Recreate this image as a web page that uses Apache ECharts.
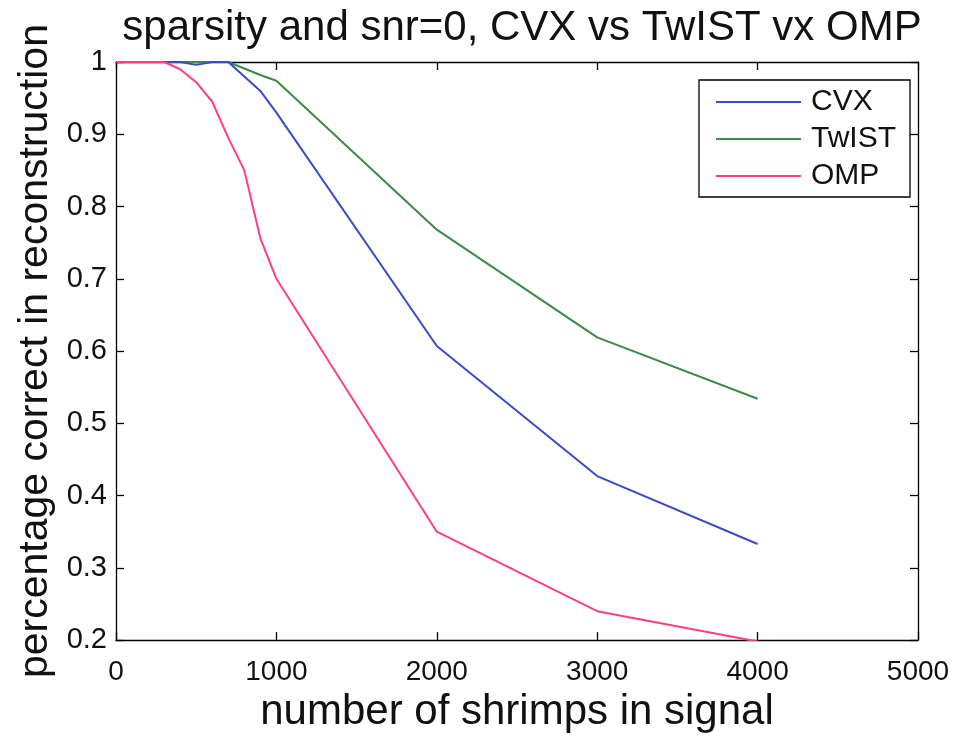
<!DOCTYPE html>
<html><head><meta charset="utf-8">
<script src="https://cdn.jsdelivr.net/npm/echarts@6/dist/echarts.min.js"></script>
<style>html,body{margin:0;padding:0;background:#fff}#c{width:959px;height:738px}</style>
</head><body><div id="c"></div>
<script>
const xValues = [0, 100, 200, 300, 400, 500, 600, 700, 800, 900, 1000, 2000, 3000, 4000];
const cvx   = [1, 1, 1, 1, 1, 0.996, 1, 1, 0.98, 0.96, 0.93, 0.607, 0.427, 0.333];
const twist = [1, 1, 1, 1, 1, 1, 1, 1, 0.991, 0.982, 0.974, 0.768, 0.619, 0.534];
const omp   = [1, 1, 1, 1, 0.99, 0.972, 0.945, 0.895, 0.85, 0.756, 0.70, 0.35, 0.24, 0.198];
const xTicks = [0, 1000, 2000, 3000, 4000, 5000];
const yTicks = [0.2, 0.3, 0.4, 0.5, 0.6, 0.7, 0.8, 0.9, 1];
const seriesNames = ['CVX', 'TwIST', 'OMP'];
const colors = ['#3a4cc4', '#3d8a45', '#ff3f80'];
const titleText = 'sparsity and snr=0, CVX vs TwIST vx OMP';
const xLabel = 'number of shrimps in signal';
const yLabel = 'percentage correct in reconstruction';

const font = 'Liberation Sans, Arial, Helvetica, sans-serif';
const chart = echarts.init(document.getElementById('c'));
const pair = arr => xValues.map((x, i) => [x, arr[i]]);
const baseX = {
  type: 'value', min: 0, max: 5000, interval: 1000,
  axisLine: {show: true, onZero: false, lineStyle: {color: '#000', width: 1.3}},
  axisTick: {show: true, inside: true, length: 8, lineStyle: {color: '#000', width: 1.3}},
  splitLine: {show: false}
};
const baseY = {
  type: 'value', min: 0.2, max: 1, interval: 0.1,
  axisLine: {show: true, onZero: false, lineStyle: {color: '#000', width: 1.3}},
  axisTick: {show: true, inside: true, length: 8, lineStyle: {color: '#000', width: 1.3}},
  splitLine: {show: false}
};
chart.setOption({
  animation: false,
  backgroundColor: '#fff',
  title: {
    text: titleText, left: 517, textAlign: 'center', top: 2,
    textStyle: {fontFamily: font, fontSize: 42, fontWeight: 'normal', color: '#111'}
  },
  grid: {left: 116, top: 62, right: 41, bottom: 89},
  legend: {
    orient: 'vertical', left: 699, top: 80,
    data: seriesNames,
    icon: 'rect', itemWidth: 85, itemHeight: 2, itemGap: 7,
    padding: [7, 14, 6, 17],
    borderColor: '#000', borderWidth: 1.3,
    textStyle: {fontFamily: font, fontSize: 30, color: '#111', lineHeight: 30, padding: [0, 0, 0, 5]}
  },
  xAxis: [
    Object.assign({}, baseX, {
      position: 'bottom',
      name: xLabel, nameLocation: 'middle', nameGap: 50,
      nameTextStyle: {fontFamily: font, fontSize: 42, color: '#111'},
      axisLabel: {fontFamily: font, fontSize: 28, color: '#111', margin: 18,
        formatter: v => xTicks.includes(v) ? String(v) : ''}
    }),
    Object.assign({}, baseX, {position: 'top', axisLabel: {show: false}})
  ],
  yAxis: [
    Object.assign({}, baseY, {
      position: 'left',
      name: yLabel, nameLocation: 'middle', nameGap: 60,
      nameTextStyle: {fontFamily: font, fontSize: 41, color: '#111'},
      axisLabel: {fontFamily: font, fontSize: 29, color: '#111', margin: 9,
        formatter: v => { const r = Math.round(v * 10) / 10; return yTicks.includes(r) ? (r === 1 ? '1' : r.toFixed(1)) : ''; }}
    }),
    Object.assign({}, baseY, {position: 'right', axisLabel: {show: false}})
  ],
  series: [
    {name: seriesNames[0], type: 'line', data: pair(cvx), symbol: 'none', lineStyle: {width: 2, color: colors[0]}, itemStyle: {color: colors[0]}, z: 3},
    {name: seriesNames[1], type: 'line', data: pair(twist), symbol: 'none', lineStyle: {width: 2, color: colors[1]}, itemStyle: {color: colors[1]}, z: 2},
    {name: seriesNames[2], type: 'line', data: pair(omp), symbol: 'none', lineStyle: {width: 2, color: colors[2]}, itemStyle: {color: colors[2]}, z: 4}
  ]
});
</script></body></html>
